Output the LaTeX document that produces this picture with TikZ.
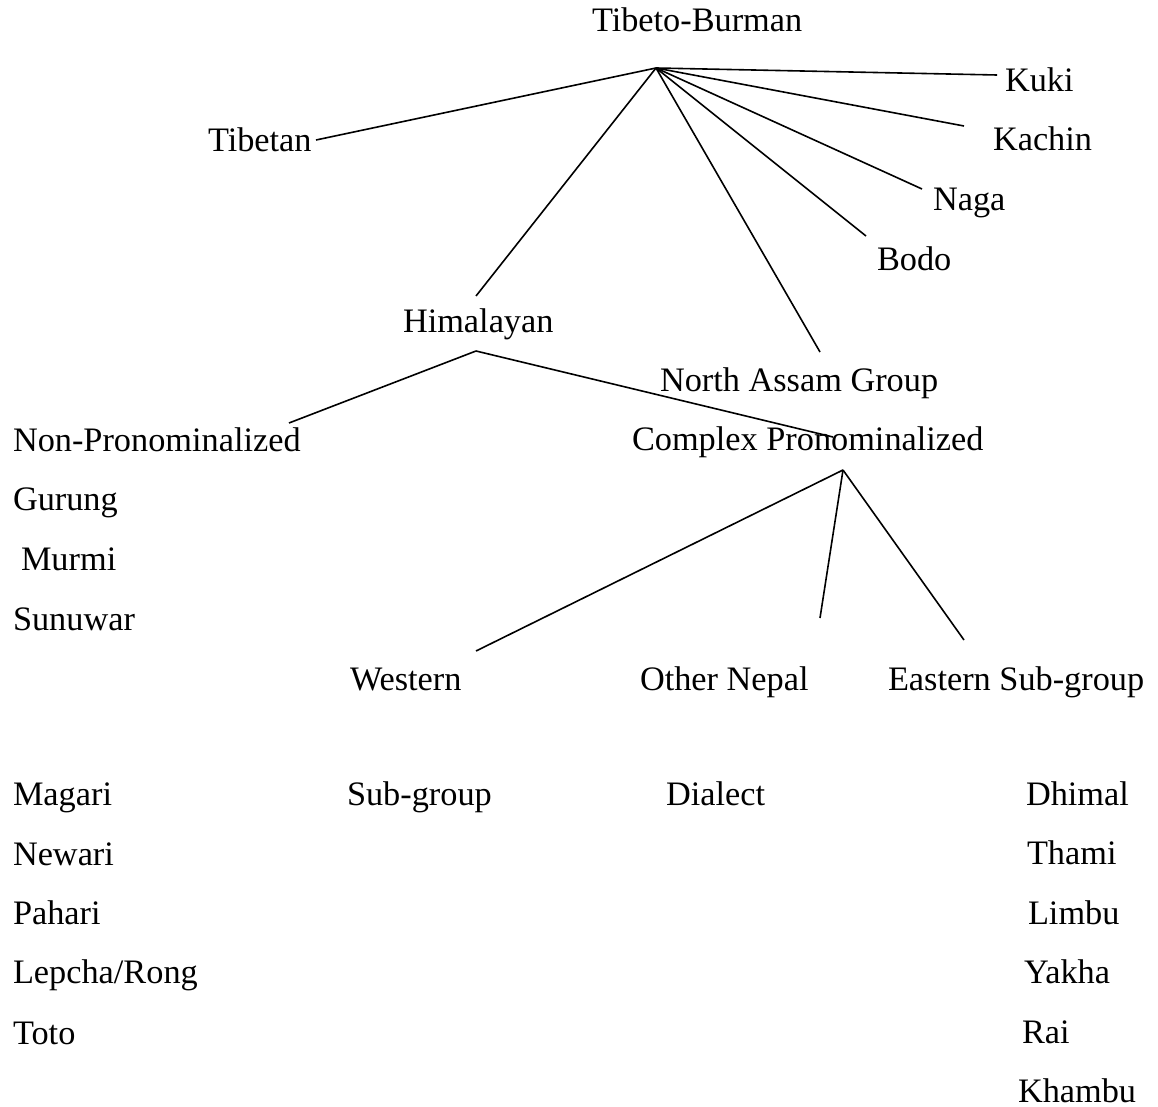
\documentclass[tikz,border=0pt]{standalone}
\usepackage{fontspec}
\setmainfont{Liberation Serif}
\begin{document}
\begin{tikzpicture}[x=1pt,y=-1pt,
  lbl/.style={anchor=base west,inner sep=0pt,outer sep=0pt,font=\fontsize{34.3}{40}\selectfont},
  conn/.style={draw=black,line width=1.6pt}]
\useasboundingbox[fill=white] (0,0) rectangle (1158,1107);
% labels
\node[lbl] (tb) at (592,32) {Tibeto-Burman};
\node[lbl] (kuki) at (1005,92) {Kuki};
\node[lbl] (tibetan) at (208,152) {Tibetan};
\node[lbl] (kachin) at (993,151) {Kachin};
\node[lbl] (naga) at (933,211) {Naga};
\node[lbl] (bodo) at (877,270) {Bodo};
\node[lbl] (him) at (403,332) {Himalayan};
\node[lbl] (nag) at (660,391) {North Assam Group};
\node[lbl] (nonpro) at (13,451) {Non-Pronominalized};
\node[lbl] (cpro) at (632,450) {Complex Pronominalized};
\node[lbl] (gurung) at (13,510) {Gurung};
\node[lbl] (murmi) at (21,570) {Murmi};
\node[lbl] (sunuwar) at (13,630) {Sunuwar};
\node[lbl] (western) at (350,690) {Western};
\node[lbl] (othnep) at (640,690) {Other Nepal};
\node[lbl] (eastern) at (888,690) {Eastern Sub-group};
\node[lbl] (subgrp) at (347,805) {Sub-group};
\node[lbl] (dialect) at (666,805) {Dialect};
\node[lbl] (magari) at (13,805) {Magari};
\node[lbl] (newari) at (13,865) {Newari};
\node[lbl] (pahari) at (13,924) {Pahari};
\node[lbl] (lepcha) at (13,983) {Lepcha/Rong};
\node[lbl] (toto) at (13,1044) {Toto};
\node[lbl] (dhimal) at (1026,805) {Dhimal};
\node[lbl] (thami) at (1027,864) {Thami};
\node[lbl] (limbu) at (1028,924) {Limbu};
\node[lbl] (yakha) at (1024,983) {Yakha};
\node[lbl] (rai) at (1022,1043) {Rai};
\node[lbl] (khambu) at (1018,1102) {Khambu};
% connector end points
\coordinate (tbA) at (656,68);
\coordinate (kukiE) at (997,75);
\coordinate (tibE) at (316,140);
\coordinate (kachE) at (964,126);
\coordinate (nagaE) at (922,189);
\coordinate (bodoE) at (866,236);
\coordinate (himE) at (476,296);
\coordinate (nagE) at (820,352);
\coordinate (himA) at (476,351);
\coordinate (nonE) at (289,423);
\coordinate (cproE) at (833,437);
\coordinate (cproA) at (843,470);
\coordinate (westE) at (476,651);
\coordinate (othE) at (820,618);
\coordinate (eastE) at (964,640);
% connectors
\draw[conn] (tbA) -- (kukiE);
\draw[conn] (tbA) -- (tibE);
\draw[conn] (tbA) -- (kachE);
\draw[conn] (tbA) -- (nagaE);
\draw[conn] (tbA) -- (bodoE);
\draw[conn] (tbA) -- (himE);
\draw[conn] (tbA) -- (nagE);
\draw[conn] (himA) -- (nonE);
\draw[conn] (himA) -- (cproE);
\draw[conn] (cproA) -- (westE);
\draw[conn] (cproA) -- (othE);
\draw[conn] (cproA) -- (eastE);
\end{tikzpicture}
\end{document}
